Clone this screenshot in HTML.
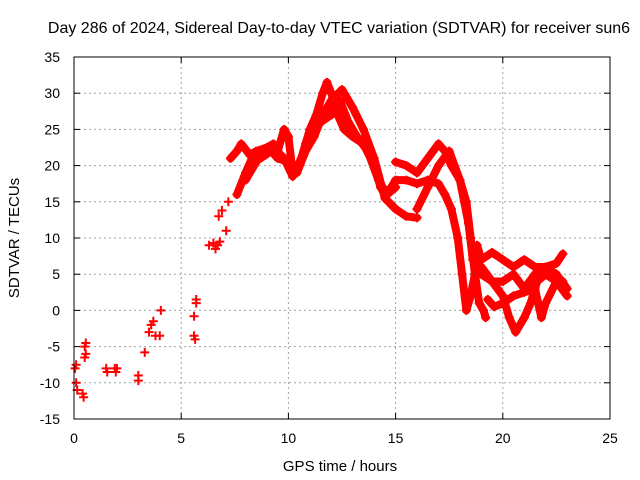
<!DOCTYPE html>
<html><head><meta charset="utf-8"><style>
body{margin:0;background:#fff}
svg{display:block;font-family:"Liberation Sans",sans-serif}
</style></head><body>
<svg id="chart" width="640" height="480" viewBox="0 0 640 480" xmlns="http://www.w3.org/2000/svg">
<rect width="640" height="480" fill="#fff"/>
<text x="339" y="33" font-size="16" text-anchor="middle">Day 286 of 2024, Sidereal Day-to-day VTEC variation (SDTVAR) for receiver sun6</text>
<text x="340" y="471" font-size="15" text-anchor="middle">GPS time / hours</text>
<text transform="translate(19,238) rotate(-90)" font-size="15" text-anchor="middle">SDTVAR / TECUs</text>
<g id="grid"></g><g id="ticks"></g><g id="marks"></g>
<rect x="74" y="57" width="536" height="362" fill="none" stroke="#000" stroke-width="1"/>
</svg>
<script>
const xTicks=[0,5,10,15,20,25];
const yTicks=[-15,-10,-5,0,5,10,15,20,25,30,35];
const sparse=[[0.05,-8],[0.1,-10],[0.15,-11],[0.1,-7.5],[0.4,-11.5],[0.45,-12],[0.5,-5],[0.5,-6.5],[0.55,-4.5],[0.55,-6],[1.5,-8],[1.55,-8.5],[1.9,-8],[1.95,-8.5],[2,-8],[3,-9],[3,-9.7],[3.3,-5.8],[3.5,-3],[3.6,-2],[3.7,-1.5],[3.8,-3.5],[4,-3.5],[4.05,0],[5.6,-0.8],[5.6,-3.5],[5.65,-4],[5.7,1],[5.7,1.5],[6.3,9],[6.6,8.5],[6.8,9.5],[6.75,13],[6.9,13.8],[7.2,15],[7.1,11],[6.7,9],[6.5,9.3]];
const track1=[[7.3,21],[7.6,22],[7.8,23],[8.2,21.5],[8.5,22],[9,22.5],[9.3,23],[9.5,22],[9.8,25],[10,24],[10.2,19],[10.5,20],[10.8,23],[11,25],[11.3,27],[11.6,30],[11.8,31.5],[12,30],[12.3,27],[12.6,25],[13,24],[13.5,23],[14,20],[14.3,17],[14.5,16],[14.8,17],[15,18],[15.5,18],[16,17.5],[16.5,18],[17,17.5],[17.3,16],[17.6,14],[17.9,10],[18.1,5],[18.3,0],[18.5,2],[18.7,5],[19,6],[19.5,4],[20,4],[20.5,5],[21,3],[21.5,5],[22,6],[22.5,5],[23,3]];
const track2=[[7.6,16],[8,19],[8.3,21],[8.7,21],[9.2,22],[9.5,21],[10,20.5],[10.4,19],[10.8,22],[11.2,24],[11.6,27],[12,29],[12.5,30.5],[13,28],[13.5,25],[14,21],[14.5,15.5],[15,14],[15.5,13],[16,12.8]];
const track2b=[[8,18],[8.4,20],[8.8,22],[9.3,22.5],[9.8,21],[10.2,18.5],[10.6,21],[11,24],[11.5,26],[12,27],[12.4,29],[12.8,26],[13.2,24],[13.7,22],[14.2,18],[14.6,16],[15,17]];
const track3=[[15,20.5],[15.5,20],[16,19],[16.5,21],[17,23],[17.3,22],[17.6,20],[18,18],[18.3,15],[18.5,10],[18.7,5],[18.9,1],[19.1,0],[19.2,-1]];
const track4=[[16,14],[16.5,17],[17,20],[17.5,22],[18,18],[18.4,12],[18.6,7],[19,5],[19.5,4],[20,2],[20.3,-1],[20.6,-3],[21,-1],[21.3,1],[21.6,4],[22,5],[22.5,4],[23,2]];
const track5=[[18.8,9],[19,7],[19.5,8],[20,7],[20.5,6],[21,7],[21.5,6],[22,6],[22.5,6.5],[22.8,7.8]];
const track6=[[19.3,1.5],[19.6,0.5],[20,1],[20.5,2],[21,2.5],[21.5,3],[21.8,-1],[22,1],[22.5,4],[22.8,4]];
const tracks=[track1,track2,track2b,track3,track4,track5,track6];
const X=v=>74+v*536/25, Y=v=>419-(v+15)*362/50;
const NS="http://www.w3.org/2000/svg";
function mk(t,a,p){const e=document.createElementNS(NS,t);for(const k in a)e.setAttribute(k,a[k]);p.appendChild(e);return e;}
const grid=document.getElementById('grid'),ticks=document.getElementById('ticks'),marks=document.getElementById('marks');
xTicks.forEach(v=>{
 if(v>0&&v<25){const l=mk('line',{x1:X(v),x2:X(v),y1:57,y2:419,stroke:'#a0a0a0','stroke-dasharray':'2,3'},grid);
 
 }
 const t=mk('text',{x:X(v),y:443,'font-size':14,'text-anchor':'middle'},ticks);t.textContent=v;
 
 
 mk('line',{x1:X(v),x2:X(v),y1:419,y2:413,stroke:'#000'},ticks);mk('line',{x1:X(v),x2:X(v),y1:57,y2:63,stroke:'#000'},ticks);
});
yTicks.forEach(v=>{
 if(v>-15&&v<35){const l=mk('line',{x1:74,x2:610,y1:Y(v),y2:Y(v),stroke:'#a0a0a0','stroke-dasharray':'2,3'},grid);
 
 }
 const t=mk('text',{x:60,y:Y(v)+5,'font-size':14,'text-anchor':'end'},ticks);t.textContent=v;
 
 
 mk('line',{x1:74,x2:80,y1:Y(v),y2:Y(v),stroke:'#000'},ticks);mk('line',{x1:604,x2:610,y1:Y(v),y2:Y(v),stroke:'#000'},ticks);
});
function plus(p){const x=X(p[0]),y=Y(p[1]);
 const m=mk('path',{d:`M${x-4.5},${y}h9M${x},${y-4.5}v9`,stroke:'#f00','stroke-width':2},marks);
 
 }
tracks.forEach(tr=>{
 const pl=mk('polyline',{points:tr.map(p=>X(p[0])+','+Y(p[1])).join(' '),fill:'none',stroke:'#f00','stroke-width':8,'stroke-linejoin':'round','stroke-linecap':'round'},marks);
 
 
 tr.forEach(plus);
});
sparse.forEach(plus);
</script>
</body></html>
